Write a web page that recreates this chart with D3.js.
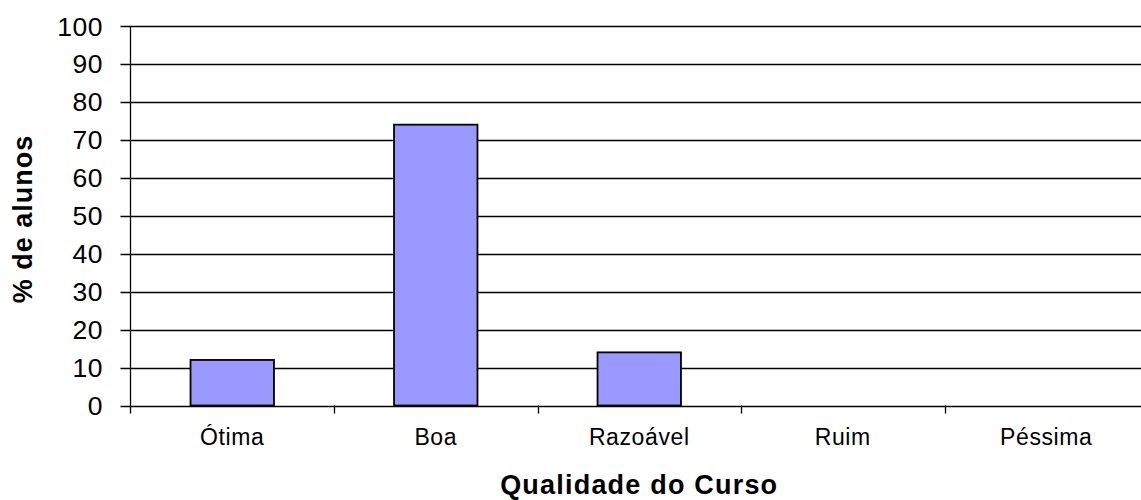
<!DOCTYPE html>
<html><head><meta charset="utf-8">
<script src="https://cdn.jsdelivr.net/npm/d3@7/dist/d3.min.js"></script>
<style>
html,body{margin:0;padding:0;background:#fff;}
svg{display:block;font-family:"Liberation Sans",Arial,sans-serif;}
</style></head>
<body>
<svg id="c" width="1141" height="500"></svg>
<script>
const categories = ["Ótima","Boa","Razoável","Ruim","Péssima"];
const values = [12, 74, 14, 0, 0];
const yTicks = [0,10,20,30,40,50,60,70,80,90,100];
const xTitle = "Qualidade do Curso";
const yTitle = "% de alunos";

const svg = d3.select("#c");
const pL = 130.5, pR = 1148, pT = 26, pB = 405.5;

const x = d3.scaleBand().domain(categories).range([pL, pR]).paddingInner(0.59).paddingOuter(0.295);
const xb = d3.scaleBand().domain(categories).range([pL, pR]);
const y = d3.scaleLinear().domain([0,100]).range([pB, pT]);

// gridlines
svg.append("g").selectAll("line").data(yTicks).join("line")
  .attr("x1", pL-10).attr("x2", 1141)
  .attr("y1", d=>Math.round(y(d))+0.5).attr("y2", d=>Math.round(y(d))+0.5)
  .attr("stroke", "#000").attr("stroke-width", 1.3);

// y tick labels
svg.append("g").selectAll("text").data(yTicks).join("text")
  .attr("x", 103).attr("y", d=>y(d)).attr("dy","0.36em")
  .attr("text-anchor","end").attr("font-size", 26.5).attr("letter-spacing", 0.5).attr("fill","#000")
  .text(d=>d);

// y axis line
svg.append("line").attr("x1", pL).attr("x2", pL).attr("y1", pT).attr("y2", pB+8)
  .attr("stroke","#000").attr("stroke-width",1.3);

// x ticks at boundaries
const bounds = categories.map(c=>xb(c)).concat([pR]);
svg.append("g").selectAll("line").data(bounds.slice(1)).join("line")
  .attr("x1", d=>Math.round(d)+0.5).attr("x2", d=>Math.round(d)+0.5)
  .attr("y1", pB).attr("y2", pB+8)
  .attr("stroke","#000").attr("stroke-width",1.3);

// bars
svg.append("g").selectAll("rect").data(categories.map((c,i)=>({c,v:values[i]})).filter(d=>d.v>0)).join("rect")
  .attr("x", d=>x(d.c)).attr("width", x.bandwidth())
  .attr("y", d=>y(d.v)).attr("height", d=>y(0)-y(d.v))
  .attr("fill","#9999FF").attr("stroke","#000").attr("stroke-width",1.8);

// x labels
svg.append("g").selectAll("text").data(categories).join("text")
  .attr("x", d=>xb(d)+xb.bandwidth()/2).attr("y", 445)
  .attr("text-anchor","middle").attr("font-size", 23).attr("letter-spacing", 0.6).attr("fill","#000")
  .text(d=>d);

// titles
svg.append("text").attr("x", (pL+pR)/2).attr("y", 494)
  .attr("text-anchor","middle").attr("font-size", 27).attr("font-weight","bold").attr("letter-spacing", 1.2)
  .text(xTitle);
svg.append("text").attr("transform","translate(32,219) rotate(-90)")
  .attr("text-anchor","middle").attr("font-size", 27).attr("font-weight","bold").attr("letter-spacing", 1)
  .text(yTitle);
</script>
</body></html>
